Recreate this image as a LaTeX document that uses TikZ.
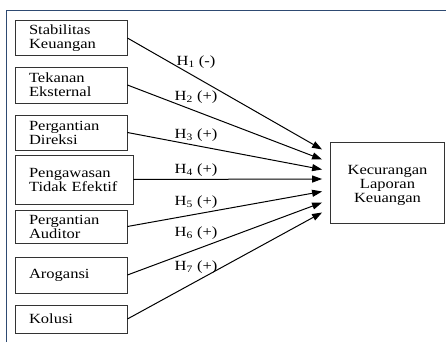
\documentclass[tikz,border=0pt]{standalone}
\usepackage{fontspec}
\setmainfont{Liberation Serif}[FakeStretch=1.18]
\usepackage{tikz}
\usetikzlibrary{positioning, arrows.meta}

\definecolor{framenavy}{HTML}{2E4A72}

\begin{document}
\begin{tikzpicture}[
            x=1pt, y=-1pt,
            var/.style={
                rectangle,
                draw=black!80,
                line width=0.8pt,
                minimum width=112pt,
                minimum height=35pt,
                text width=84pt,
                inner xsep=14pt,
                inner ysep=2pt,
                align=left,
                font=\fontsize{14}{14}\selectfont
            },
            hyp/.style={
                inner sep=1pt,
                font=\fontsize{14}{14}\selectfont
            },
            arrow/.style={
                -{Triangle[length=10pt,width=7pt]},
                line width=1pt
            }
        ]
            \useasboundingbox (0,0) rectangle (446,342);

            % frame
            \draw[framenavy, line width=1.8pt] (6.5,342) -- (6.5,10.5) -- (446,10.5);

            \node [var] (stab) at (71,38) {Stabilitas\\Keuangan};
            \node [var, minimum height=36pt] (tek) at (71,85) {Tekanan\\Eksternal};
            \node [var] (dir) at (71,132.5) {Pergantian\\Direksi};
            \node [var, minimum width=118pt, text width=90pt, minimum height=49pt] (peng) at (74,179.5) {Pengawasan\\Tidak Efektif};
            \node [var, minimum height=33pt] (aud) at (71,226.5) {Pergantian\\Auditor};
            \node [var, minimum height=36pt] (arog) at (71,275) {Arogansi};
            \node [var, minimum height=28pt] (kol) at (71,319) {Kolusi};

            \node [var, minimum width=114pt, minimum height=81pt, text width=100pt, inner xsep=7pt,
                   align=center, text depth=26pt] (fraud) at (387.5,182.5) {Kecurangan\\Laporan\\Keuangan};

            \draw [arrow] (stab.east) -- ([xshift=-8pt, yshift=33pt]fraud.west);
            \draw [arrow] (tek.east)  -- ([xshift=-8pt, yshift=23pt]fraud.west);
            \draw [arrow] (dir.east)  -- ([xshift=-8pt, yshift=13pt]fraud.west);
            \draw [arrow] (peng.east) -- ([xshift=-8pt, yshift=3.5pt]fraud.west);
            \draw [arrow] (aud.east)  -- ([xshift=-8pt, yshift=-9pt]fraud.west);
            \draw [arrow] (arog.east) -- ([xshift=-8pt, yshift=-20pt]fraud.west);
            \draw [arrow] (kol.east)  -- ([xshift=-8pt, yshift=-30pt]fraud.west);

            \node [hyp] (h1) at (196,62) {H\textsubscript{1} (-)};
            \node [hyp] (h2) at (196,97) {H\textsubscript{2} (+)};
            \node [hyp] (h3) at (196,135) {H\textsubscript{3} (+)};
            \node [hyp] (h4) at (196,170) {H\textsubscript{4} (+)};
            \node [hyp] (h5) at (196,202) {H\textsubscript{5} (+)};
            \node [hyp] (h6) at (196,233) {H\textsubscript{6} (+)};
            \node [hyp] (h7) at (196,267) {H\textsubscript{7} (+)};

        \end{tikzpicture}
\end{document}
